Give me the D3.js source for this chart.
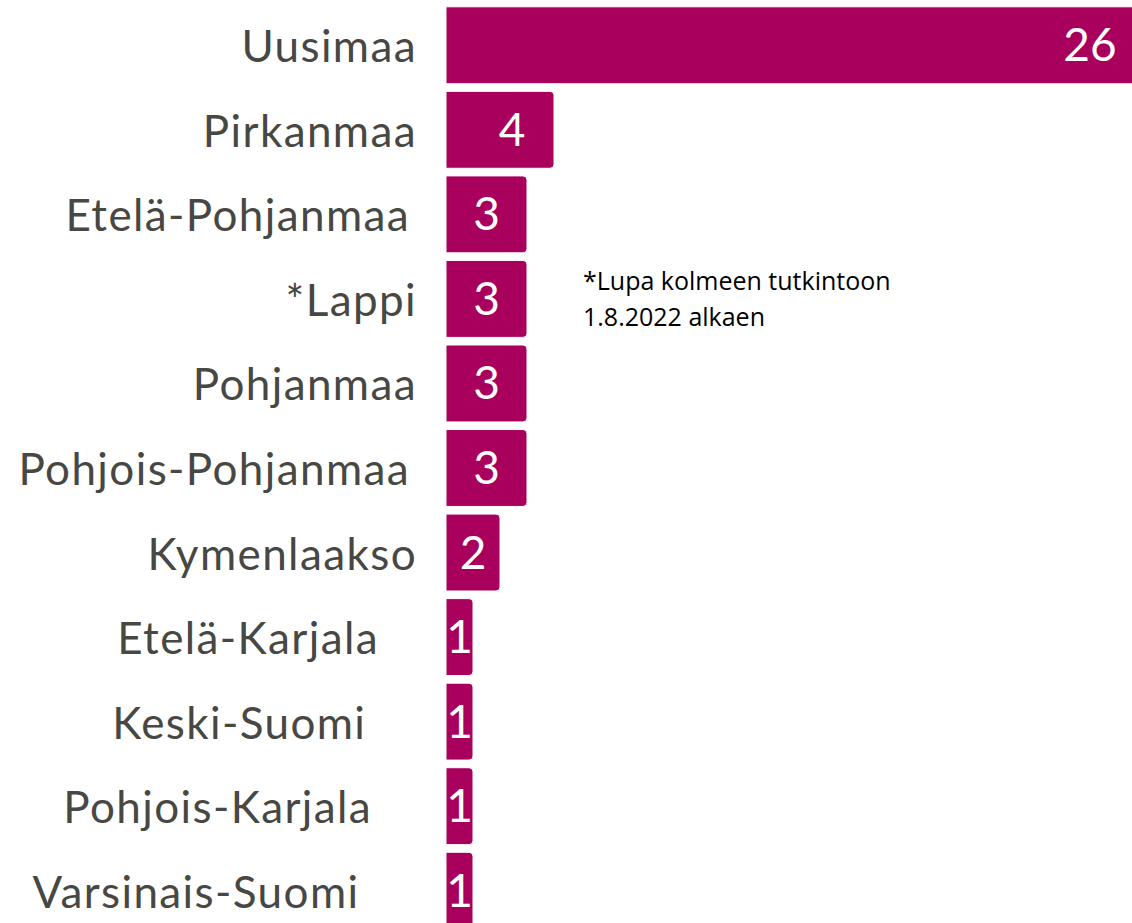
<!DOCTYPE html>
<html><head><meta charset="utf-8">
<script src="https://cdn.jsdelivr.net/npm/d3@7"></script>
<style>
html,body{margin:0;padding:0;background:#fff;}
svg{display:block;}
</style></head>
<body>
<script>
const categories = ["Uusimaa","Pirkanmaa","Etelä-Pohjanmaa\u2009","*Lappi","Pohjanmaa","Pohjois-Pohjanmaa\u2009","Kymenlaakso","Etelä-Karjala\u00A0\u00A0\u00A0","Keski-Suomi\u00A0\u00A0\u00A0\u00A0","Pohjois-Karjala\u00A0\u00A0\u00A0\u2009","Varsinais-Suomi\u00A0\u00A0\u00A0\u00A0\u2009"];
const values = [26,4,3,3,3,3,2,1,1,1,1];
const noteLines = ["*Lupa kolmeen tutkintoon","1.8.2022 alkaen"];

const W = 1132, H = 923;
const svg = d3.select("body").append("svg").attr("width",W).attr("height",H);

const x = d3.scaleLinear().domain([0,26]).range([446,1148]);
const y = d3.scaleBand().domain(d3.range(categories.length)).range([3,933]).paddingInner(0.09).paddingOuter(0.045);

const color = "#A9005D";
const g = svg.append("g");

function barPath(x0,x1,y0,h,r){
  r = Math.min(r,(x1-x0)/2);
  return `M${x0},${y0}H${x1-r}Q${x1},${y0} ${x1},${y0+r}V${y0+h-r}Q${x1},${y0+h} ${x1-r},${y0+h}H${x0}Z`;
}

g.selectAll("path.bar").data(values).join("path")
  .attr("class","bar")
  .attr("d",(v,i)=>barPath(x(0),x(v),y(i),y.bandwidth(),4))
  .attr("fill",color)
  .attr("stroke","#fff").attr("stroke-width",1);

g.selectAll("text.val").data(values).join("text")
  .attr("class","val")
  .attr("x",v=>Math.max((x(0)+x(v))/2, Math.min(x(v),W)-42))
  .attr("y",(v,i)=>y(i)+y.bandwidth()/2+16)
  .attr("text-anchor","middle")
  .attr("fill","#fff")
  .attr("font-family","Lato, sans-serif")
  .attr("font-size",46)
  .text(v=>v);

g.selectAll("text.cat").data(categories).join("text")
  .attr("class","cat")
  .attr("x",417)
  .attr("y",(c,i)=>y(i)+y.bandwidth()/2+17)
  .attr("text-anchor","end")
  .attr("fill","#474743")
  .attr("font-family","Lato, sans-serif")
  .attr("font-size",44)
  .attr("letter-spacing","1.4px")
  .style("white-space","pre")
  .text(c=>c);

svg.append("g").selectAll("text").data(noteLines).join("text")
  .attr("x",583)
  .attr("y",(d,i)=>290+i*36)
  .attr("fill","#000")
  .attr("font-family","'Open Sans', sans-serif")
  .attr("font-size",25)
  .text(d=>d);
</script>
</body></html>
